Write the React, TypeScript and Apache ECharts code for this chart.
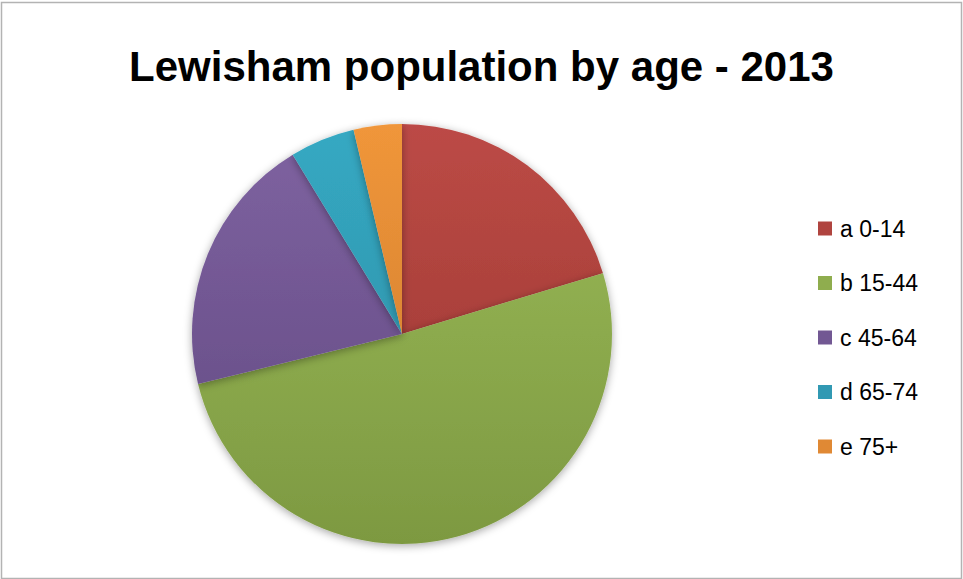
import React, { useEffect, useRef } from "react";
import * as echarts from "echarts";

const titleText = "Lewisham population by age - 2013";
const categories = ["a 0-14", "b 15-44", "c 45-64", "d 65-74", "e 75+"];
const shares = [20.3, 50.8, 20.1, 5.0, 3.7];
const topColors = ["#BC4A46", "#9BBB59", "#7F63A1", "#35A9C3", "#F0963A"];
const bottomColors = ["#98372F", "#7D9941", "#604780", "#2D8AA0", "#C9782C"];
const legendColors = ["#B0443F", "#8FAD4E", "#725893", "#3199B3", "#E08934"];

export default function App() {
  const ref = useRef<HTMLDivElement>(null);
  useEffect(() => {
    if (!ref.current) return;
    const chart = echarts.init(ref.current, null, { renderer: "svg" });
    const cx = 402;
    const cy = 334;
    const r = 210;
    const data = categories.map((name, i) => ({
      name,
      value: shares[i],
      itemStyle: {
        color: {
          type: "linear",
          x: 0,
          y: cy - r,
          x2: 0,
          y2: cy + r,
          global: true,
          colorStops: [
            { offset: 0, color: topColors[i] },
            { offset: 1, color: bottomColors[i] },
          ],
        },
      },
    }));
    chart.setOption({
      animation: false,
      backgroundColor: "#ffffff",
      title: {
        text: titleText,
        left: "center",
        top: 40,
        textStyle: {
          fontFamily: "Liberation Sans, Arial, sans-serif",
          fontWeight: "bold",
          fontSize: 42,
          color: "#000000",
        },
      },
      legend: {
        orient: "vertical",
        left: 813,
        top: 212,
        icon: "rect",
        itemWidth: 14,
        itemHeight: 14,
        itemGap: 31.5,
        selectedMode: false,
        data: categories.map((name, i) => ({
          name,
          itemStyle: { color: legendColors[i] },
        })),
        textStyle: {
          fontFamily: "Liberation Sans, Arial, sans-serif",
          fontSize: 23,
          lineHeight: 22,
          color: "#000000",
          padding: [0, 0, 0, 3],
        },
      },
      graphic: [
        {
          type: "rect",
          shape: { x: 1.5, y: 2.5, width: 960, height: 576 },
          style: { fill: "none", stroke: "#b3b3b3", lineWidth: 1.5 },
          silent: true,
        },
      ],
      series: [
        {
          type: "pie",
          center: [cx, cy],
          radius: r,
          startAngle: 90,
          clockwise: true,
          label: { show: false },
          labelLine: { show: false },
          emphasis: { disabled: true },
          itemStyle: {
            borderWidth: 0,
            shadowBlur: 8,
            shadowColor: "rgba(0,0,0,0.35)",
            shadowOffsetY: 2,
          },
          data,
        },
      ],
    });
    return () => chart.dispose();
  }, []);
  return (
    <div
      ref={ref}
      style={{ position: "fixed", left: 0, top: 0, width: 963, height: 579 }}
    />
  );
}
